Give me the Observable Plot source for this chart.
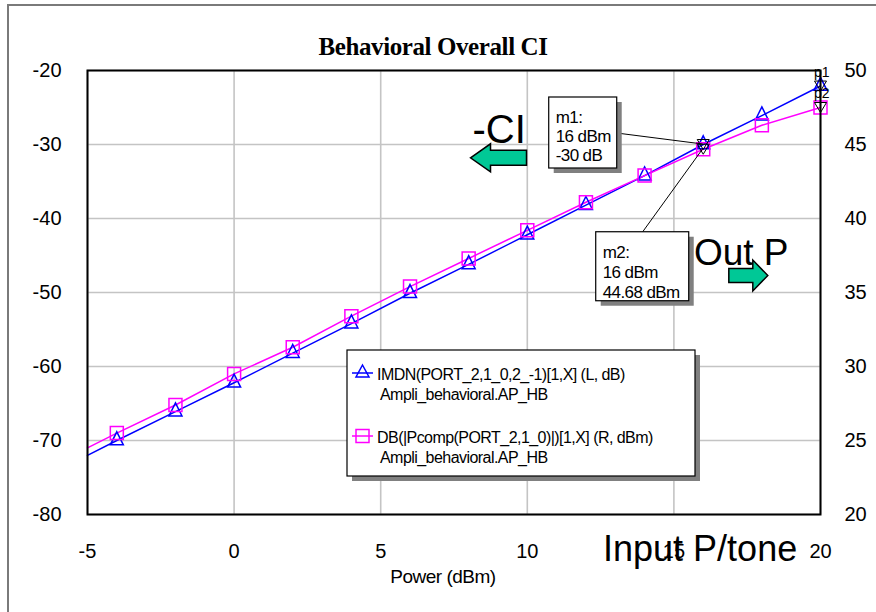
<!DOCTYPE html>
<html><head><meta charset="utf-8">
<script src="https://cdn.jsdelivr.net/npm/d3@7"></script>
<script src="https://cdn.jsdelivr.net/npm/@observablehq/plot@0.6"></script>
<style>html,body{margin:0;padding:0;background:#fff;overflow:hidden}</style>
</head><body><div id="chart"></div>
<script>
// ---- data ----
const power = [-5, -4, -2, 0, 2, 4, 6, 8, 10, 12, 14, 16, 18, 20];             // Power (dBm)
const imdn  = [-72.0, -70.0, -66.1, -62.2, -58.2, -54.2, -50.1, -46.2, -42.2, -38.2, -34.2, -30.0, -26.1, -22.1]; // left axis, dB
const pout  = [24.5, 25.5, 27.4, 29.5, 31.3, 33.4, 35.4, 37.3, 39.2, 41.1, 42.9, 44.68, 46.3, 47.5];             // right axis, dBm
const markedPower = [-4, -2, 0, 2, 4, 6, 8, 10, 12, 14, 16, 18, 20];
const xTicks = [-5, 0, 5, 10, 15, 20];
const yLeftTicks = [-80, -70, -60, -50, -40, -30, -20];
const yRightTicks = [20, 25, 30, 35, 40, 45, 50];
const markerNames = ["m1", "m2", "p1", "p2"];
const markerPower = [16, 16, 20, 20];
const markerSeries = ["L", "R", "L", "R"];
const legendLines = [
  ["IMDN(PORT_2,1_0,2_-1)[1,X] (L, dB)", "Ampli_behavioral.AP_HB"],
  ["DB(|Pcomp(PORT_2,1_0)|)[1,X] (R, dBm)", "Ampli_behavioral.AP_HB"]
];
const titleText = "Behavioral Overall CI";
const xLabel = "Power (dBm)";

// right axis (20..50 dBm) drawn on left scale (-80..-20 dB)
const toLeft = r => -80 + (r - 20) * (60 / 30);
const fromLeft = l => 20 + (l + 80) * (30 / 60);

const rows = power.map((p, i) => ({power: p, imdn: imdn[i], pout: pout[i], poutL: toLeft(pout[i])}));
const marked = rows.filter(d => markedPower.includes(d.power));
const markers = markerNames.map((n, i) => {
  const r = rows.find(d => d.power === markerPower[i]);
  return {name: n, power: markerPower[i], y: markerSeries[i] === "L" ? r.imdn : r.poutL, v: markerSeries[i] === "L" ? r.imdn : r.pout};
});

const BLUE = "#0000ff", MAG = "#ff00ff", GRID = "#c4c4c4";
const triUp = {draw(c) { c.moveTo(0, -8.7); c.lineTo(6.5, 4.3); c.lineTo(-6.5, 4.3); c.closePath(); }};
const square = {draw(c) { c.moveTo(-6.5, -6.5); c.lineTo(6.5, -6.5); c.lineTo(6.5, 6.5); c.lineTo(-6.5, 6.5); c.closePath(); }};
const triDown = {draw(c) { c.moveTo(-6, -5); c.lineTo(6, -5); c.lineTo(0, 5); c.closePath(); }};
const hy = d => String(d); // plain hyphen-minus like the reference

const plot = Plot.plot({
  width: 876, height: 612,
  marginLeft: 87, marginRight: 56, marginTop: 70, marginBottom: 98,
  style: {fontFamily: "'Liberation Sans', Arial, sans-serif", background: "#fff", overflow: "visible"},
  x: {domain: [-5, 20]},
  y: {domain: [-80, -20]},
  marks: [
    Plot.ruleX(xTicks, {stroke: GRID, strokeWidth: 1.6}),
    Plot.ruleY(yLeftTicks, {stroke: GRID, strokeWidth: 1.6}),
    Plot.axisX(xTicks, {tickSize: 0, tickPadding: 29, fontSize: 20, label: null, fill: "#000", tickFormat: hy}),
    Plot.axisY(yLeftTicks, {anchor: "left", tickSize: 0, tickPadding: 26, fontSize: 20, label: null, fill: "#000", tickFormat: hy}),
    Plot.axisY(yLeftTicks, {anchor: "right", tickSize: 0, tickPadding: 24, fontSize: 20, label: null, fill: "#000",
      tickFormat: d => String(fromLeft(d))}),
    Plot.line(rows, {x: "power", y: "imdn", stroke: BLUE, strokeWidth: 1.5}),
    Plot.line(rows, {x: "power", y: "poutL", stroke: MAG, strokeWidth: 1.5}),
    Plot.dot(marked, {x: "power", y: "imdn", symbol: triUp, stroke: BLUE, fill: "none", strokeWidth: 1.5}),
    Plot.dot(marked, {x: "power", y: "poutL", symbol: square, stroke: MAG, fill: "none", strokeWidth: 1.5}),
    Plot.frame({stroke: "#000", strokeWidth: 2}),
    Plot.dot(markers, {x: "power", y: "y", symbol: triDown, stroke: "#000", fill: "none", strokeWidth: 1})
  ]
});
document.getElementById("chart").appendChild(plot);

// ---- annotations (layout) ----
const svg = d3.select(plot);
const sx = plot.scale("x"), sy = plot.scale("y");
const X = v => sx.apply(v), Y = v => sy.apply(v);
const FONT = "'Liberation Sans', Arial, sans-serif";
const g = svg.append("g").attr("text-anchor", "start");

// outer border
g.append("rect").attr("x", 8).attr("y", 5).attr("width", 940).attr("height", 700)
  .attr("fill", "none").attr("stroke", "#7a7a7a").attr("stroke-width", 2);

// title
g.append("text").attr("x", 433).attr("y", 55).attr("text-anchor", "middle")
  .attr("font-family", "'Liberation Serif', 'Times New Roman', serif").attr("font-weight", "bold")
  .attr("font-size", 25).attr("letter-spacing", -0.4).text(titleText);

// x axis label
g.append("text").attr("x", 443).attr("y", 583).attr("text-anchor", "middle")
  .attr("font-family", FONT).attr("font-size", 19).attr("letter-spacing", -0.5).text(xLabel);

// big callouts
const callouts = [
  {text: "-CI", x: 8.15, y: -29.84, size: 40},
  {text: "Out P", x: 15.70, y: -46.29, size: 37},
  {text: "Input P/tone", x: 12.6, y: -86.4, size: 36}
];
callouts.forEach(c => g.append("text").attr("x", X(c.x)).attr("y", Y(c.y)).attr("text-anchor", "start")
  .attr("font-family", FONT).attr("font-size", c.size).attr("fill", "#000").text(c.text));

// green arrows: tip position, direction, total length, head length, head height, shaft height
function arrow(tx, ty, dir, len, hl, hh, sh) {
  const s = dir === "left" ? 1 : -1;
  const pts = [[tx, ty], [tx + s * hl, ty - hh / 2], [tx + s * hl, ty - sh / 2], [tx + s * len, ty - sh / 2],
               [tx + s * len, ty + sh / 2], [tx + s * hl, ty + sh / 2], [tx + s * hl, ty + hh / 2]];
  g.append("path").attr("d", "M" + pts.map(p => p.join(",")).join("L") + "Z")
    .attr("fill", "#00c896").attr("stroke", "#000").attr("stroke-width", 1.5).attr("stroke-linejoin", "miter");
}
arrow(X(8.08), Y(-31.86), "left", 56, 20, 28, 15);
arrow(X(18.22), Y(-47.77), "right", 39, 15, 31, 14);

// marker readout boxes
function readout(m, dx, dy, w, h, lines, lineGap, leadFrom) {
  const px = X(m.power), py = Y(m.y);
  const bx = px + dx, by = py + dy;
  g.append("line").attr("x1", leadFrom[0] === "right" ? bx + w : bx + leadFrom[1])
    .attr("y1", leadFrom[0] === "right" ? by + leadFrom[1] : by)
    .attr("x2", px).attr("y2", py).attr("stroke", "#000").attr("stroke-width", 1);
  g.append("rect").attr("x", bx + 5).attr("y", by + 5).attr("width", w).attr("height", h).attr("fill", "#808080");
  g.append("rect").attr("x", bx).attr("y", by).attr("width", w).attr("height", h)
    .attr("fill", "#fff").attr("stroke", "#000").attr("stroke-width", 1.2);
  lines.forEach((t, i) => g.append("text").attr("x", bx + 7).attr("y", by + 26 + i * lineGap)
    .attr("text-anchor", "start").attr("font-family", FONT).attr("font-size", 17).attr("letter-spacing", -0.6).text(t));
}
const fmt = v => (Math.round(v * 100) / 100).toString();
readout(markers[0], -154, -47, 68, 71, ["m1:", `${markers[0].power} dBm`, `${fmt(markers[0].v)} dB`], 19, ["right", 36]);
readout(markers[1], -107, 83, 93, 69, ["m2:", `${markers[1].power} dBm`, `${fmt(markers[1].v)} dBm`], 20, ["top", 47]);

// p1 / p2 labels
[markers[2], markers[3]].forEach((m, i) => g.append("text").attr("x", X(m.power) - 6).attr("y", i === 0 ? 77 : 98)
  .attr("text-anchor", "start").attr("font-family", FONT).attr("font-size", 14).text(m.name));

// legend box
const L = {x: 347, y: 350, w: 348, h: 126};
g.append("rect").attr("x", L.x + 5).attr("y", L.y + 5).attr("width", L.w).attr("height", L.h).attr("fill", "#808080");
g.append("rect").attr("x", L.x).attr("y", L.y).attr("width", L.w).attr("height", L.h)
  .attr("fill", "#fff").attr("stroke", "#000").attr("stroke-width", 1.2);
const legendStyles = [{color: BLUE, sym: "tri"}, {color: MAG, sym: "sq"}];
legendLines.forEach((ls, i) => {
  const base = 380 + i * 63;
  const cy = base - 7;
  g.append("line").attr("x1", 352).attr("x2", 373).attr("y1", cy).attr("y2", cy)
    .attr("stroke", legendStyles[i].color).attr("stroke-width", 1.5);
  if (legendStyles[i].sym === "tri")
    g.append("path").attr("d", `M362.5,${cy - 8}L369,${cy + 4}L356,${cy + 4}Z`).attr("fill", "none")
      .attr("stroke", BLUE).attr("stroke-width", 1.5);
  else
    g.append("rect").attr("x", 356).attr("y", cy - 6.5).attr("width", 13).attr("height", 13).attr("fill", "none")
      .attr("stroke", MAG).attr("stroke-width", 1.5);
  g.append("text").attr("x", 377).attr("y", base).attr("text-anchor", "start").attr("font-family", FONT).attr("font-size", 16)
    .attr("letter-spacing", -0.55).text(ls[0]);
  g.append("text").attr("x", 380).attr("y", base + 20).attr("text-anchor", "start").attr("font-family", FONT).attr("font-size", 16)
    .attr("letter-spacing", -0.55).text(ls[1]);
});
</script></body></html>
